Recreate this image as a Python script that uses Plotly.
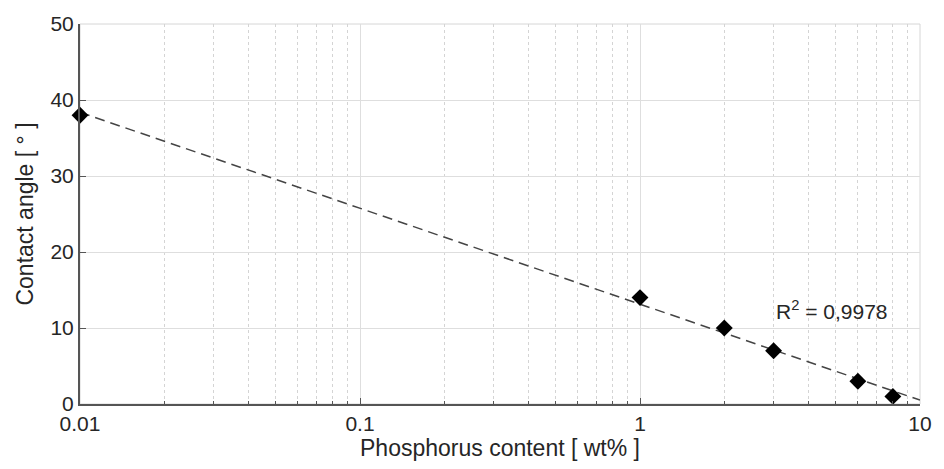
import numpy as np
import plotly.graph_objects as go

phosphorus = [0.01, 1, 2, 3, 6, 8]
contact_angle = [38, 14, 10, 7, 3, 1]
x_major_ticks = [0.01, 0.1, 1, 10]
x_major_text = ["0.01", "0.1", "1", "10"]
x_minor_ticks = [m * d for d in [0.01, 0.1, 1] for m in range(2, 10)]
y_ticks = [0, 10, 20, 30, 40, 50]
r2_text = "R<sup>2</sup> = 0,9978"

# logarithmic fit
b, a = np.polyfit(np.log10(phosphorus), contact_angle, 1)
fit_x = np.logspace(-2, 1, 200)
fit_y = a + b * np.log10(fit_x)

font_family = "Liberation Sans, Arial, sans-serif"
text_color = "#262626"

fig = go.Figure()
fig.add_trace(go.Scatter(
    x=fit_x, y=fit_y, mode="lines",
    line=dict(color="#444444", width=1.5, dash="10px,6px"),
    hoverinfo="skip", showlegend=False, cliponaxis=False,
))
fig.add_trace(go.Scatter(
    x=phosphorus, y=contact_angle, mode="markers",
    marker=dict(symbol="diamond", size=13, color="#000000"),
    showlegend=False, cliponaxis=False,
))

fig.add_annotation(
    x=np.log10(3.0), y=12.4, xref="x", yref="y", text=r2_text,
    showarrow=False, xanchor="left", yanchor="middle",
    font=dict(family=font_family, size=21, color=text_color),
)

fig.update_layout(
    width=944, height=469,
    margin=dict(l=80, r=18, t=16, b=65),
    paper_bgcolor="white", plot_bgcolor="white",
    font=dict(family=font_family, size=21, color=text_color),
    shapes=[dict(type="rect", xref="paper", yref="paper", x0=0, y0=0, x1=1, y1=1,
                 line=dict(color="#d6d6d6", width=1), layer="below")],
)
fig.update_xaxes(
    type="log", range=[-2, 1],
    tickmode="array", tickvals=x_major_ticks, ticktext=x_major_text,
    ticks="inside", ticklen=6, tickcolor="#555555", tickwidth=1,
    showgrid=True, gridcolor="#dedede", gridwidth=1,
    showline=True, linecolor="#555555", linewidth=2,
    minor=dict(tickmode="array", tickvals=x_minor_ticks, ticks="inside", ticklen=3,
               tickcolor="#555555", showgrid=True, gridcolor="#d4d4d4",
               griddash="dot", gridwidth=1),
    zeroline=False,
    title=dict(text="Phosphorus content [ wt% ]", standoff=6,
               font=dict(size=23, color=text_color)),
    tickfont=dict(size=21, color=text_color),
)
fig.update_yaxes(
    range=[0, 50], tickmode="array", tickvals=y_ticks,
    ticks="inside", ticklen=6, tickcolor="#555555", tickwidth=1,
    showgrid=True, gridcolor="#dedede", gridwidth=1,
    showline=True, linecolor="#555555", linewidth=2,
    zeroline=False,
    title=dict(text="Contact angle [ ° ]", standoff=10,
               font=dict(size=23, color=text_color)),
    tickfont=dict(size=21, color=text_color),
)

fig.write_html("out.html")
